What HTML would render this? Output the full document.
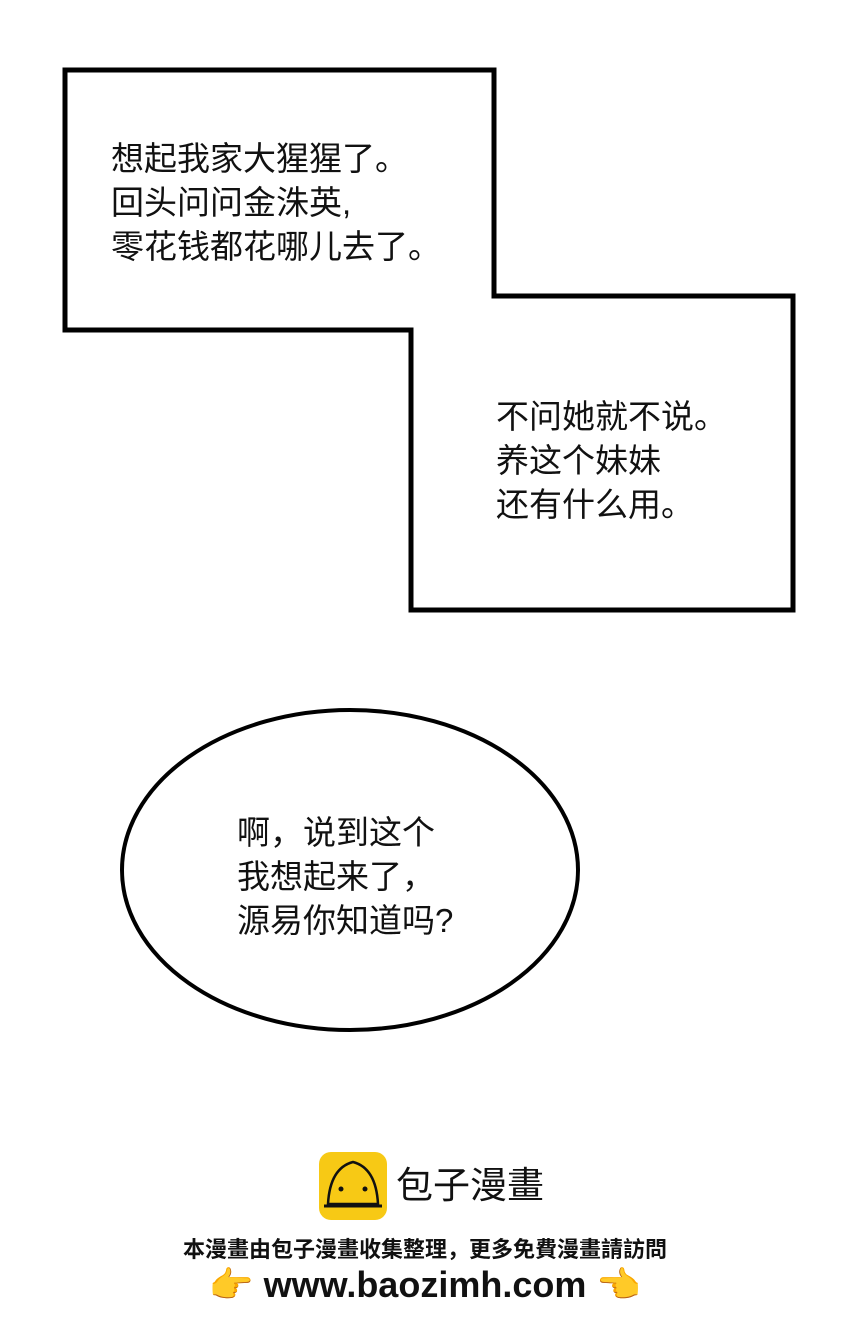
<!DOCTYPE html>
<html><head><meta charset="utf-8"><style>
html,body{margin:0;padding:0;background:#fff;width:850px;height:1328px;overflow:hidden;position:relative}
.t{position:absolute;font-family:"Liberation Sans","Noto Sans CJK SC",sans-serif;color:#111;font-size:33px;line-height:44px;white-space:nowrap}
</style></head><body>
<svg width="850" height="1328" style="position:absolute;left:0;top:0">
<polygon points="65,70 494,70 494,296 793,296 793,610 411,610 411,330 65,330" fill="none" stroke="#000" stroke-width="5" stroke-linejoin="miter"/>
<ellipse cx="350" cy="870" rx="228" ry="160" fill="none" stroke="#000" stroke-width="4"/>
<rect x="319" y="1152" width="68" height="68" rx="12" fill="#f7c915"/>
<path d="M328,1204 Q330,1168 353,1162 Q376,1168 378,1204 Z" fill="#f7c915" stroke="#111" stroke-width="2.5"/>
<line x1="324" y1="1206" x2="382" y2="1206" stroke="#111" stroke-width="3"/>
<circle cx="341" cy="1189" r="2.5" fill="#111"/><circle cx="365" cy="1189" r="2.5" fill="#111"/>
</svg>
<div class="t" style="left:111px;top:137px">想起我家大猩猩了。<br>回头问问金洙英,<br>零花钱都花哪儿去了。</div>
<div class="t" style="left:496px;top:395px">不问她就不说。<br>养这个妹妹<br>还有什么用。</div>
<div class="t" style="left:237px;top:811px">啊，说到这个<br>我想起来了，<br>源易你知道吗?</div>
<div class="t" style="left:396px;top:1163px;font-size:37px;line-height:46px">包子漫畫</div>
<div class="t" style="left:0;width:850px;text-align:center;top:1235px;font-size:22px;line-height:30px;font-weight:bold">本漫畫由包子漫畫收集整理，更多免費漫畫請訪問</div>
<div class="t" style="left:0;width:850px;text-align:center;top:1264px;font-size:36px;line-height:42px;font-weight:bold"><span style="color:#f0b020">👉</span> www.baozimh.com <span style="color:#f0b020">👈</span></div>
</body></html>
